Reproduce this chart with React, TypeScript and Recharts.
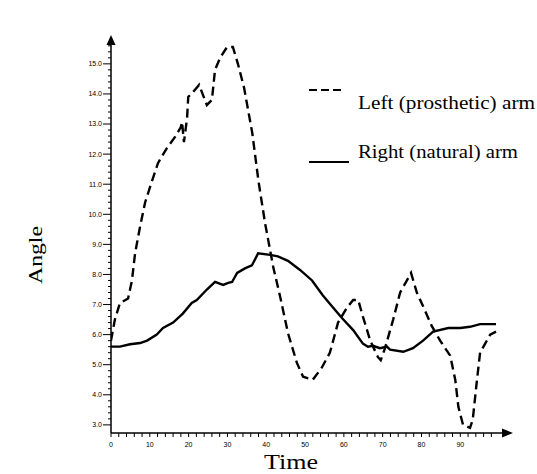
import { Line, LineChart, XAxis, YAxis } from "recharts";

// Left (prosthetic) arm, dashed
const leftTime = [
  0, 1, 2.3, 4.4, 5.4, 6.2, 7.5, 8.8, 10.3, 12.1, 14.4, 16.5, 18.0, 18.3, 18.8, 19.6, 19.9, 21.1,
  22.7, 24.7, 26.0, 26.8, 28.1, 29.9, 31.4, 32.7, 34.3, 36.4, 38.0, 39.7, 40.5, 41.8, 43.6, 45.6,
  47.9, 49.5, 52.0, 54.3, 56.4, 58.5, 60.8, 62.4, 63.7, 64.9, 66.8, 68.8, 69.5, 70.6, 72.7, 74.5,
  77.3, 78.8, 80.9, 82.6, 84.8, 87.4, 88.7, 89.5, 90.7, 92.5, 93.2, 94.3, 95.1, 96.4, 97.7, 99.2,
];
const leftAngle = [
  5.8, 6.5, 7.05, 7.2, 7.8, 8.7, 9.6, 10.4, 11.0, 11.7, 12.2, 12.57, 12.9, 13.07, 12.4, 13.2, 13.9, 14.06,
  14.3, 13.63, 13.8, 14.8, 15.2, 15.56, 15.56, 15.0, 14.2, 12.7, 11.1, 9.7, 9.15, 8.25, 7.25, 6.05,
  5.06, 4.6, 4.5, 4.9, 5.4, 6.4, 6.9, 7.15, 7.15, 6.6, 5.8, 5.25, 5.15, 5.55, 6.5, 7.4,
  8.05, 7.4, 6.8, 6.3, 5.8, 5.3, 4.5, 3.6, 3.0, 2.9, 3.17, 4.5, 5.4, 5.7, 6.0, 6.1,
];

// Right (natural) arm, solid
const rightTime = [
  0, 2.3, 4.9, 7.5, 9.3, 11.8, 13.4, 16.0, 18.5, 20.8, 22.1, 24.7, 26.8, 28.9, 30.2, 31.2, 32.5,
  34.5, 36.3, 37.9, 41.0, 43.0, 45.6, 48.7, 51.8, 54.6, 57.2, 59.5, 62.4, 64.9, 66.2, 67.5, 69.3,
  71.1, 71.9, 75.3, 77.8, 80.4, 83.0, 86.9, 90.0, 92.5, 95.1, 99.2,
];
const rightAngle = [
  5.6, 5.6, 5.68, 5.72, 5.8, 6.0, 6.22, 6.4, 6.7, 7.05, 7.15, 7.5, 7.75, 7.65, 7.72, 7.75, 8.05,
  8.2, 8.3, 8.7, 8.65, 8.6, 8.45, 8.15, 7.8, 7.3, 6.9, 6.55, 6.15, 5.7, 5.6, 5.63, 5.55,
  5.6, 5.5, 5.43, 5.55, 5.8, 6.1, 6.22, 6.22, 6.26, 6.35, 6.35,
];

const xTicks = Array.from({ length: 50 }, (_, i) => i * 2);
const yTicks = Array.from({ length: 64 }, (_, i) => +(3 + i * 0.2).toFixed(1));

const series = [
  { key: "left", name: "Left (prosthetic) arm", dash: "9 5", data: leftTime.map((t, i) => ({ t, v: leftAngle[i] })) },
  { key: "right", name: "Right (natural) arm", dash: undefined, data: rightTime.map((t, i) => ({ t, v: rightAngle[i] })) },
];

const W = 537;
const H = 474;
const PLOT_LEFT = 111;
const PLOT_TOP = 44;
const PLOT_RIGHT = 503;
const PLOT_BOTTOM = 433;
const Y_AXIS_W = 50;
const SERIF = "'Liberation Serif', 'Times New Roman', serif";
const SANS = "'Liberation Sans', Arial, sans-serif";

const XTick = ({ x, payload }: any) => {
  const major = payload.value % 10 === 0;
  return (
    <g>
      <line x1={x} x2={x} y1={PLOT_BOTTOM} y2={PLOT_BOTTOM + 4} stroke="#000" strokeWidth={1} />
      {major && (
        <text x={x} y={PLOT_BOTTOM + 14} textAnchor="middle" fontSize={7} fill="#000" fontFamily={SANS}>
          {payload.value}
        </text>
      )}
    </g>
  );
};

const YTick = ({ y, payload }: any) => {
  const v = payload.value as number;
  const major = Math.abs(v - Math.round(v)) < 1e-6;
  return (
    <g>
      <line x1={PLOT_LEFT - (major ? 8 : 3)} x2={PLOT_LEFT} y1={y} y2={y} stroke="#000" strokeWidth={1} />
      {major && (
        <text x={PLOT_LEFT - 9} y={y} dy="0.35em" textAnchor="end" fontSize={7} fill="#000" fontFamily={SANS}>
          {v.toFixed(1)}
        </text>
      )}
    </g>
  );
};

export default function App() {
  return (
    <div style={{ position: "absolute", left: 0, top: 0, width: W, height: H, background: "#fff" }}>
      <LineChart
        width={W}
        height={H}
        margin={{ top: PLOT_TOP, right: W - PLOT_RIGHT, bottom: 0, left: PLOT_LEFT - Y_AXIS_W }}
      >
        <XAxis
          type="number"
          dataKey="t"
          domain={[0, 101]}
          allowDataOverflow
          ticks={xTicks}
          interval={0}
          tick={<XTick />}
          tickLine={false}
          axisLine={{ stroke: "#000", strokeWidth: 1.5 }}
          height={H - PLOT_BOTTOM}
        />
        <YAxis
          type="number"
          dataKey="v"
          domain={[2.73, 15.66]}
          allowDataOverflow
          ticks={yTicks}
          interval={0}
          tick={<YTick />}
          tickLine={false}
          axisLine={{ stroke: "#000", strokeWidth: 1.5 }}
          width={Y_AXIS_W}
        />
        {series.map((s) => (
          <Line
            key={s.key}
            data={s.data}
            dataKey="v"
            name={s.name}
            type="linear"
            stroke="#000"
            strokeWidth={2.4}
            strokeDasharray={s.dash}
            dot={false}
            isAnimationActive={false}
          />
        ))}
      </LineChart>
      <svg
        width={W}
        height={H}
        style={{ position: "absolute", left: 0, top: 0, pointerEvents: "none" }}
      >
        {/* axis arrows */}
        <polygon
          points={`${PLOT_LEFT},35 ${PLOT_LEFT - 4.5},${PLOT_TOP + 1} ${PLOT_LEFT + 4.5},${PLOT_TOP + 1}`}
          fill="#000"
        />
        <polygon
          points={`513,${PLOT_BOTTOM} ${PLOT_RIGHT - 1},${PLOT_BOTTOM - 4.5} ${PLOT_RIGHT - 1},${PLOT_BOTTOM + 4.5}`}
          fill="#000"
        />
        {/* axis titles */}
        <text
          x={291}
          y={469}
          textAnchor="middle"
          fontSize={22}
          textLength={54}
          lengthAdjust="spacingAndGlyphs"
          fontFamily={SERIF}
          fill="#000"
        >
          Time
        </text>
        <text
          x={0}
          y={0}
          transform="translate(42,255) rotate(-90)"
          textAnchor="middle"
          fontSize={18}
          textLength={58}
          lengthAdjust="spacingAndGlyphs"
          fontFamily={SERIF}
          fill="#000"
        >
          Angle
        </text>
        {/* legend */}
        {series.map((s, i) => (
          <g key={s.key}>
            <line
              x1={309}
              x2={i === 0 ? 345 : 349}
              y1={i === 0 ? 90 : 162}
              y2={i === 0 ? 90 : 162}
              stroke="#000"
              strokeWidth={2}
              strokeDasharray={s.dash ? "8 4" : undefined}
            />
            <text
              x={358}
              y={i === 0 ? 109 : 158}
              fontSize={18}
              textLength={i === 0 ? 177 : 160}
              lengthAdjust="spacingAndGlyphs"
              fontFamily={SERIF}
              fill="#000"
            >
              {s.name}
            </text>
          </g>
        ))}
      </svg>
    </div>
  );
}
